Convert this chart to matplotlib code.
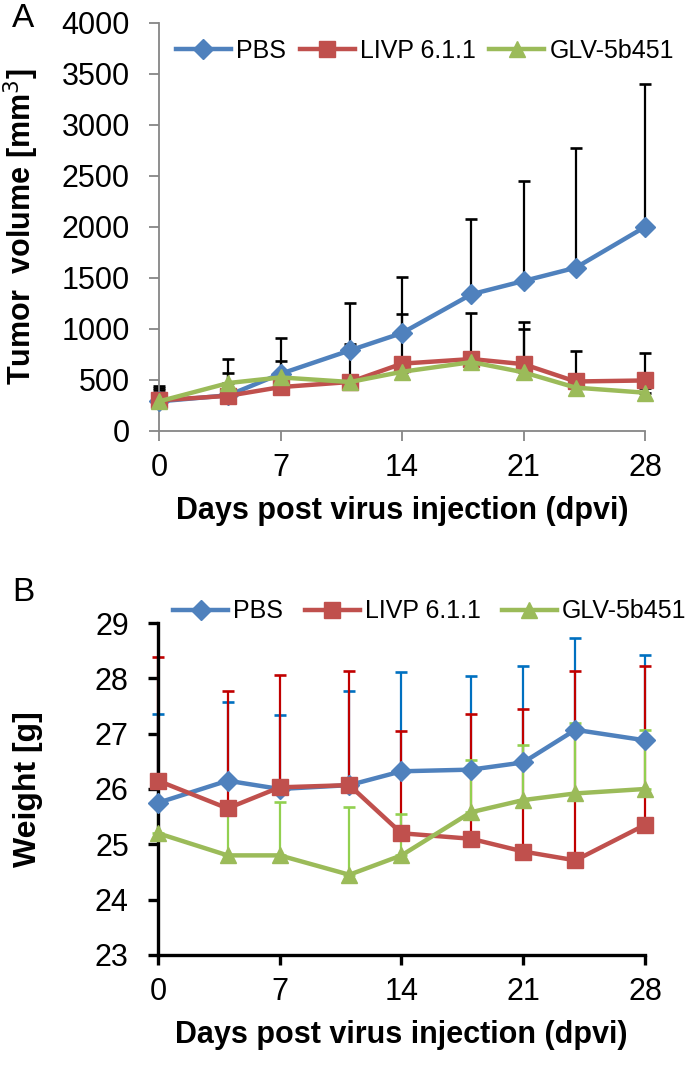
import numpy as np
import matplotlib
matplotlib.use("Agg")
import matplotlib.pyplot as plt

plt.rcParams["font.family"] = ["Liberation Sans", "DejaVu Sans"]

# sampling days (dpvi)
days = [0, 4, 7, 11, 14, 18, 21, 24, 28]
groups = ["PBS", "LIVP 6.1.1", "GLV-5b451"]

# panel A: tumor volume [mm3], mean and upper SD
vol_pbs = [290, 350, 560, 790, 960, 1340, 1470, 1600, 2000]
vol_livp = [300, 345, 430, 480, 660, 705, 655, 485, 495]
vol_glv = [290, 470, 525, 480, 580, 675, 575, 425, 375]
vol_sd_pbs = [130, 215, 355, 460, 550, 735, 980, 1170, 1400]
vol_sd_livp = [140, 75, 110, 375, 485, 455, 415, 295, 265]
vol_sd_glv = [110, 235, 165, 60, 60, 65, 420, 45, 45]

# panel B: body weight [g], mean and upper SD
wt_pbs = [25.75, 26.15, 26.0, 26.07, 26.32, 26.35, 26.48, 27.07, 26.88]
wt_livp = [26.15, 25.65, 26.03, 26.07, 25.2, 25.1, 24.87, 24.71, 25.35]
wt_glv = [25.2, 24.8, 24.8, 24.45, 24.8, 25.58, 25.8, 25.92, 26.0]
wt_sd_pbs = [1.61, 1.42, 1.33, 1.70, 1.80, 1.69, 1.74, 1.66, 1.54]
wt_sd_livp = [2.24, 2.12, 2.03, 2.06, 1.85, 2.26, 2.58, 3.42, 2.87]
wt_sd_glv = [0.55, 0.95, 0.96, 1.23, 0.75, 0.94, 0.99, 1.27, 1.06]

line_colors = ["#4F81BD", "#C0504D", "#9BBB59"]
err_colors_b = ["#0070C0", "#C00000", "#92D050"]
markers = ["D", "s", "^"]
msizes = [10, 11, 12]

x_ticks = [0, 7, 14, 21, 28]
FS = 22

fig = plt.figure(figsize=(6.92, 10.67), dpi=100)
axA = fig.add_axes([0.2298, 0.5961, 0.7023, 0.3824])
axB = fig.add_axes([0.2283, 0.1050, 0.7037, 0.3111])


def draw_series(ax, means, sds, ecolors, elw, capsize):
    handles = []
    for i, (m, s) in enumerate(zip(means, sds)):
        ax.errorbar(days, m, yerr=[np.zeros(len(s)), s], fmt="none",
                    ecolor=ecolors[i], elinewidth=elw, capsize=capsize,
                    capthick=elw + 0.3, zorder=2, clip_on=False)
    for i, m in enumerate(means):
        h, = ax.plot(days, m, color=line_colors[i], lw=3.2, marker=markers[i],
                     ms=msizes[i], mfc=line_colors[i], mec=line_colors[i],
                     label=groups[i], zorder=3, clip_on=False)
        handles.append(h)
    return handles


# ---- panel A ----
hA = draw_series(axA, [vol_pbs, vol_livp, vol_glv],
                 [vol_sd_pbs, vol_sd_livp, vol_sd_glv],
                 ["black"] * 3, 1.6, 4.5)
axA.set_xlim(0, 28)
axA.set_ylim(0, 4000)
axA.set_yticks(np.arange(0, 4001, 500))
axA.set_xticks(x_ticks)
for side in ["top", "right"]:
    axA.spines[side].set_visible(False)
for side in ["left", "bottom"]:
    axA.spines[side].set_color("#868686")
    axA.spines[side].set_linewidth(1.3)
axA.tick_params(axis="both", colors="#868686", labelcolor="black",
                labelsize=FS, length=7, width=1.3, direction="out")
axA.tick_params(axis="y", pad=14)
axA.tick_params(axis="x", pad=9)
axA.set_ylabel("Tumor  volume [mm$^3$]", fontsize=22, fontweight="bold")
axA.yaxis.set_label_coords(-0.243, 0.5)
axA.set_xlabel("Days post virus injection (dpvi)", fontsize=FS,
               fontweight="bold", labelpad=9)
fig.legend(handles=hA, loc="center", bbox_to_anchor=(0.614, 0.952), ncol=3,
           frameon=False, fontsize=18, handlelength=2.2, handletextpad=0.2,
           columnspacing=0.55)
fig.text(0.017, 0.983, "A", fontsize=24, va="center", ha="left")

# ---- panel B ----
hB = draw_series(axB, [wt_pbs, wt_livp, wt_glv],
                 [wt_sd_pbs, wt_sd_livp, wt_sd_glv],
                 err_colors_b, 1.6, 4.5)
axB.set_xlim(0, 28)
axB.set_ylim(23, 29)
axB.set_yticks(np.arange(23, 30, 1))
axB.set_xticks(x_ticks)
for side in ["top", "right"]:
    axB.spines[side].set_visible(False)
for side in ["left", "bottom"]:
    axB.spines[side].set_color("black")
    axB.spines[side].set_linewidth(2.4)
axB.tick_params(axis="both", colors="black", labelsize=FS, length=7,
                width=2.4, direction="out")
axB.tick_params(axis="y", pad=14)
axB.tick_params(axis="x", pad=9)
axB.set_ylabel("Weight [g]", fontsize=23, fontweight="bold")
axB.yaxis.set_label_coords(-0.236, 0.5)
axB.set_xlabel("Days post virus injection (dpvi)", fontsize=FS,
               fontweight="bold", labelpad=9)
fig.legend(handles=hB, loc="center", bbox_to_anchor=(0.621, 0.427), ncol=3,
           frameon=False, fontsize=18, handlelength=2.2, handletextpad=0.2,
           columnspacing=0.85)
fig.text(0.017, 0.445, "B", fontsize=24, va="center", ha="left")

fig.savefig("out.png", dpi=100)
